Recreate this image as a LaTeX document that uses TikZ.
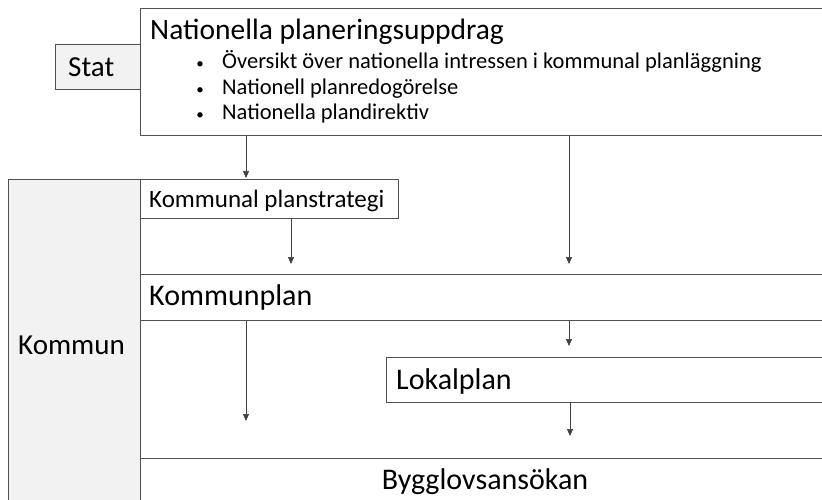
\documentclass[tikz,border=0pt]{standalone}
\usepackage{fontspec}
\setmainfont{Carlito}
\usetikzlibrary{arrows.meta}
\definecolor{boxfill}{HTML}{F2F2F2}
\definecolor{edge}{HTML}{505050}
\tikzset{
  box/.style={draw=edge, line width=1.1pt, fill=white, anchor=north west, inner sep=0pt},
  greybox/.style={box, fill=boxfill},
  lbl/.style={anchor=base west, inner sep=0pt, text=black},
  dot/.style={anchor=base, inner sep=0pt, font=\fontsize{15}{18}\selectfont},
  conn/.style={draw=black!75, line width=0.6pt, -{Triangle[width=6pt,length=7pt]}},
}
\begin{document}
\begin{tikzpicture}[x=1pt,y=-1pt]
\useasboundingbox (0,0) rectangle (822,500);
\clip (0,0) rectangle (822,500);
% boxes
\node[greybox, minimum width=85pt, minimum height=45pt] (stat) at (55,44) {};
\node[box, minimum width=700pt, minimum height=127pt] (nat) at (140,8) {};
\node[greybox, minimum width=132pt, minimum height=340pt] (kommun) at (8,179) {};
\node[box, minimum width=258pt, minimum height=39pt] (strat) at (140,179) {};
\node[box, minimum width=700pt, minimum height=46pt] (kplan) at (140,274) {};
\node[box, minimum width=450pt, minimum height=45pt] (lplan) at (386,357) {};
\node[box, minimum width=700pt, minimum height=60pt] (bygg) at (140,458) {};
% texts
\node[lbl, font=\fontsize{29}{33}\selectfont] (statT) at (68,77) {Stat};
\node[lbl, font=\fontsize{29.5}{34}\selectfont] (natT) at (150,40) {Nationella planeringsuppdrag};
\node[dot] (d1) at (200,69) {•};
\node[lbl, font=\fontsize{22.5}{26}\selectfont] (b1) at (222,69) {Översikt över nationella intressen i kommunal planläggning};
\node[dot] (d2) at (200,94.5) {•};
\node[lbl, font=\fontsize{22.5}{26}\selectfont] (b2) at (222,94.5) {Nationell planredogörelse};
\node[dot] (d3) at (200,120) {•};
\node[lbl, font=\fontsize{22.5}{26}\selectfont] (b3) at (222,120) {Nationella plandirektiv};
\node[lbl, font=\fontsize{29}{33}\selectfont] (kommunT) at (18,354) {Kommun};
\node[lbl, font=\fontsize{25}{30}\selectfont] (stratT) at (149,207) {Kommunal planstrategi};
\node[lbl, font=\fontsize{30}{34}\selectfont] (kplanT) at (149,305) {Kommunplan};
\node[lbl, font=\fontsize{30}{34}\selectfont] (lplanT) at (396,389) {Lokalplan};
\node[anchor=base, inner sep=0pt, font=\fontsize{30}{34}\selectfont] (byggT) at (485,489) {Bygglovsansökan};
% connector end points
\coordinate (e1) at (246,178);
\coordinate (e2) at (569,264);
\coordinate (e3) at (291,264);
\coordinate (e4) at (246,421);
\coordinate (e5) at (569,346);
\coordinate (e6) at (570,436);
% connectors
\draw[conn] (nat.south -| e1) -- (e1);
\draw[conn] (nat.south -| e2) -- (e2);
\draw[conn] (strat.south -| e3) -- (e3);
\draw[conn] (kplan.south -| e4) -- (e4);
\draw[conn] (kplan.south -| e5) -- (e5);
\draw[conn] (lplan.south -| e6) -- (e6);
\end{tikzpicture}
\end{document}
